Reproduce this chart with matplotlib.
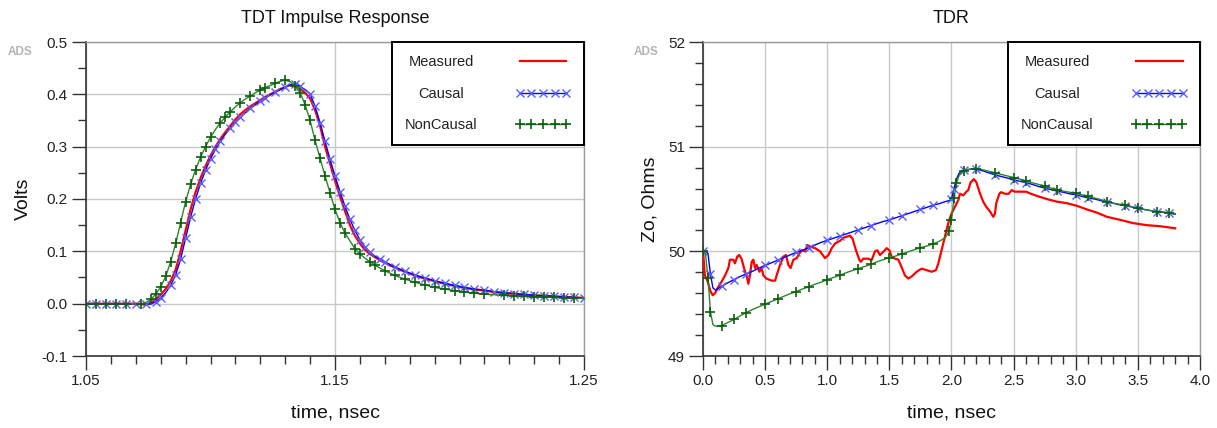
import numpy as np
import matplotlib
matplotlib.use("Agg")
import matplotlib.pyplot as plt
from matplotlib.lines import Line2D
from matplotlib.ticker import MultipleLocator, FormatStrFormatter

plt.rcParams['font.family'] = ['Liberation Sans', 'DejaVu Sans']

# ---- TDT impulse response data (time in nsec, volts) ----
t_tdt = [1.050, 1.054, 1.058, 1.062, 1.066, 1.070,
         1.072, 1.074, 1.076, 1.078, 1.080, 1.082, 1.084, 1.086, 1.088, 1.090,
         1.092, 1.094, 1.096, 1.098, 1.100, 1.102, 1.104, 1.106, 1.108, 1.110,
         1.112, 1.114, 1.116, 1.118, 1.120, 1.122, 1.124, 1.126, 1.128, 1.130,
         1.132, 1.134, 1.136, 1.138, 1.140, 1.142, 1.144, 1.146, 1.148, 1.150,
         1.152, 1.154, 1.156, 1.158, 1.160, 1.162, 1.164, 1.166, 1.168, 1.170,
         1.174, 1.178, 1.182, 1.186, 1.190, 1.194, 1.198, 1.202, 1.206, 1.210,
         1.214, 1.218, 1.222, 1.226, 1.230, 1.234, 1.238, 1.242, 1.246, 1.250]

tdt_measured = [0.000, 0.000, 0.000, 0.000, 0.000, 0.000,
                -0.001, -0.002, 0.002, 0.008, 0.017, 0.028, 0.043, 0.065, 0.100, 0.140,
                0.180, 0.213, 0.240, 0.263, 0.283, 0.300, 0.315, 0.328, 0.340, 0.352,
                0.362, 0.370, 0.377, 0.383, 0.389, 0.395, 0.400, 0.405, 0.410, 0.414,
                0.418, 0.415, 0.410, 0.403, 0.392, 0.370, 0.340, 0.300, 0.268, 0.235,
                0.205, 0.177, 0.150, 0.130, 0.115, 0.103, 0.095, 0.089, 0.083, 0.078,
                0.069, 0.061, 0.054, 0.048, 0.043, 0.038, 0.034, 0.030, 0.027, 0.025,
                0.022, 0.020, 0.019, 0.017, 0.016, 0.015, 0.014, 0.013, 0.012, 0.011]

tdt_causal = [0.000, 0.000, 0.000, 0.000, 0.000, 0.000,
              0.000, 0.000, -0.001, 0.004, 0.011, 0.021, 0.035, 0.055, 0.085, 0.125,
              0.165, 0.200, 0.230, 0.255, 0.277, 0.295, 0.311, 0.324, 0.336, 0.347,
              0.356, 0.365, 0.373, 0.380, 0.387, 0.393, 0.399, 0.404, 0.409, 0.414,
              0.418, 0.420, 0.415, 0.409, 0.401, 0.377, 0.346, 0.310, 0.276, 0.244,
              0.214, 0.186, 0.161, 0.140, 0.122, 0.108, 0.099, 0.091, 0.085, 0.080,
              0.070, 0.062, 0.055, 0.049, 0.044, 0.039, 0.035, 0.031, 0.028, 0.026,
              0.023, 0.021, 0.019, 0.018, 0.016, 0.015, 0.014, 0.013, 0.012, 0.011]

tdt_noncausal = [0.000, 0.000, 0.000, 0.000, 0.000, 0.000,
                 0.000, 0.002, 0.008, 0.018, 0.032, 0.052, 0.080, 0.115, 0.155, 0.195,
                 0.228, 0.256, 0.280, 0.300, 0.318, 0.333, 0.346, 0.357, 0.367, 0.376,
                 0.384, 0.391, 0.397, 0.403, 0.408, 0.413, 0.417, 0.421, 0.425, 0.427,
                 0.424, 0.416, 0.403, 0.380, 0.350, 0.312, 0.278, 0.244, 0.212, 0.180,
                 0.155, 0.135, 0.120, 0.105, 0.095, 0.087, 0.080, 0.074, 0.068, 0.063,
                 0.054, 0.047, 0.041, 0.036, 0.031, 0.028, 0.025, 0.022, 0.020, 0.018,
                 0.017, 0.016, 0.015, 0.014, 0.013, 0.013, 0.012, 0.011, 0.011, 0.010]

# ---- TDR data (time in nsec, Zo in ohms) ----
t_tdr = [0.00, 0.02, 0.04, 0.06, 0.08, 0.10,
         0.15, 0.20, 0.25, 0.30, 0.35, 0.40, 0.45, 0.50, 0.55, 0.60,
         0.65, 0.70, 0.75, 0.80, 0.85, 0.90, 0.95, 1.00, 1.05, 1.10,
         1.15, 1.20, 1.25, 1.30, 1.35, 1.40, 1.45, 1.50, 1.55, 1.60,
         1.65, 1.70, 1.75, 1.80, 1.85, 1.90, 1.95,
         1.98, 2.00, 2.02, 2.04, 2.06, 2.08, 2.10,
         2.15, 2.20, 2.25, 2.30, 2.35, 2.40, 2.45, 2.50, 2.55, 2.60,
         2.65, 2.70, 2.75, 2.80, 2.85, 2.90, 2.95, 3.00, 3.05, 3.10,
         3.15, 3.20, 3.25, 3.30, 3.35, 3.40, 3.45, 3.50, 3.55, 3.60,
         3.65, 3.70, 3.75, 3.80]

tdr_causal = [50.00, 50.00, 49.98, 49.78, 49.65, 49.63,
              49.665, 49.70, 49.73, 49.76, 49.785, 49.81, 49.84, 49.865, 49.89, 49.915,
              49.94, 49.965, 49.99, 50.01, 50.035, 50.06, 50.085, 50.105, 50.125, 50.145,
              50.165, 50.185, 50.205, 50.225, 50.245, 50.265, 50.285, 50.30, 50.32, 50.34,
              50.36, 50.38, 50.40, 50.42, 50.44, 50.455, 50.475,
              50.485, 50.50, 50.60, 50.69, 50.745, 50.765, 50.775,
              50.785, 50.785, 50.77, 50.75, 50.73, 50.715, 50.70, 50.68, 50.67, 50.655,
              50.64, 50.62, 50.605, 50.59, 50.575, 50.565, 50.55, 50.54, 50.525, 50.51,
              50.50, 50.485, 50.47, 50.46, 50.445, 50.435, 50.425, 50.41, 50.40, 50.39,
              50.38, 50.375, 50.365, 50.355]

tdr_noncausal = [50.00, 49.97, 49.75, 49.42, 49.30, 49.285,
                 49.29, 49.32, 49.35, 49.385, 49.415, 49.445, 49.47, 49.495, 49.52, 49.545,
                 49.57, 49.595, 49.615, 49.64, 49.66, 49.685, 49.705, 49.73, 49.75, 49.77,
                 49.795, 49.815, 49.835, 49.855, 49.875, 49.90, 49.92, 49.94, 49.955, 49.975,
                 49.995, 50.015, 50.035, 50.05, 50.07, 50.095, 50.13,
                 50.19, 50.30, 50.51, 50.65, 50.72, 50.755, 50.77,
                 50.785, 50.79, 50.78, 50.765, 50.75, 50.735, 50.72, 50.705, 50.69, 50.675,
                 50.655, 50.64, 50.62, 50.605, 50.59, 50.575, 50.565, 50.555, 50.54, 50.525,
                 50.51, 50.495, 50.475, 50.46, 50.45, 50.44, 50.425, 50.415, 50.40, 50.39,
                 50.38, 50.375, 50.37, 50.36]

# measured TDR is irregularly sampled: (time, Zo)
tdr_measured = [(0.000, 50.00), (0.015, 49.77), (0.035, 49.72), (0.060, 49.62), (0.078, 49.58),
                (0.097, 49.60), (0.123, 49.66), (0.150, 49.71), (0.177, 49.77), (0.204, 49.84),
                (0.217, 49.92), (0.244, 49.92), (0.257, 49.885), (0.276, 49.95), (0.292, 49.965),
                (0.310, 49.93), (0.330, 49.84), (0.352, 49.76), (0.365, 49.69), (0.378, 49.77),
                (0.392, 49.90), (0.405, 49.92), (0.419, 49.84), (0.432, 49.87), (0.454, 49.805),
                (0.472, 49.84), (0.486, 49.77), (0.510, 49.74), (0.553, 49.72), (0.580, 49.72),
                (0.598, 49.79), (0.620, 49.87), (0.647, 49.95), (0.668, 49.965), (0.687, 49.87),
                (0.705, 49.84), (0.727, 49.92), (0.754, 49.935), (0.776, 49.98), (0.795, 50.01),
                (0.822, 50.00), (0.840, 50.06), (0.862, 50.045), (0.902, 50.03), (0.942, 50.00),
                (0.982, 49.935), (1.010, 49.965), (1.036, 50.03), (1.063, 50.075), (1.103, 50.10),
                (1.130, 50.13), (1.170, 50.145), (1.183, 50.15), (1.204, 50.12), (1.231, 50.01),
                (1.258, 49.92), (1.270, 49.90), (1.290, 49.93), (1.330, 49.93), (1.357, 49.915),
                (1.384, 50.00), (1.403, 50.01), (1.424, 49.965), (1.451, 49.995), (1.478, 50.03),
                (1.500, 50.01), (1.518, 49.95), (1.545, 49.93), (1.572, 49.92), (1.598, 49.85),
                (1.625, 49.77), (1.652, 49.74), (1.680, 49.76), (1.720, 49.805), (1.760, 49.835),
                (1.800, 49.82), (1.840, 49.805), (1.875, 49.82), (1.894, 49.885), (1.920, 50.01),
                (1.947, 50.14), (1.974, 50.27), (2.000, 50.36), (2.030, 50.43), (2.055, 50.49),
                (2.068, 50.55), (2.095, 50.535), (2.120, 50.57), (2.135, 50.585), (2.154, 50.66),
                (2.180, 50.69), (2.200, 50.66), (2.230, 50.55), (2.257, 50.47), (2.280, 50.425),
                (2.310, 50.38), (2.336, 50.33), (2.350, 50.36), (2.360, 50.46), (2.385, 50.55),
                (2.400, 50.565), (2.430, 50.55), (2.460, 50.55), (2.485, 50.585), (2.510, 50.57),
                (2.550, 50.57), (2.600, 50.57), (2.640, 50.55), (2.686, 50.53), (2.766, 50.50),
                (2.847, 50.475), (2.927, 50.46), (3.010, 50.435), (3.090, 50.40), (3.170, 50.37),
                (3.250, 50.33), (3.360, 50.30), (3.460, 50.27), (3.570, 50.25), (3.680, 50.24),
                (3.800, 50.22)]

labels = ["Measured", "Causal", "NonCausal"]

RED = "#ff0000"
BLUE = "#0000ff"
BLUE_MK = "#5c5cff"
GREEN = "#2a862a"
GREEN_MK = "#0b5e0b"
GRID = "#c8c8c8"
DARK = "#333333"

fig = plt.figure(figsize=(12.17, 4.28), dpi=100)
ax1 = fig.add_axes([86 / 1217, 72 / 428, 498 / 1217, 314 / 428])
ax2 = fig.add_axes([703 / 1217, 72 / 428, 497 / 1217, 314 / 428])


def style_axes(ax):
    ax.grid(True, which="major", color=GRID, linewidth=1.0)
    ax.set_axisbelow(True)
    for side in ("left", "bottom"):
        ax.spines[side].set_color(DARK)
        ax.spines[side].set_linewidth(1.2)
    for side in ("top", "right"):
        ax.spines[side].set_color("#9a9a9a")
        ax.spines[side].set_linewidth(1.0)
    ax.tick_params(which="major", direction="out", length=10, width=1.0,
                   color=DARK, labelsize=11, labelcolor="#222222", pad=3)
    ax.tick_params(which="minor", direction="out", length=6, width=1.0, color=DARK)
    ax.tick_params(top=False, right=False, which="both")


def add_legend(ax):
    handles = [
        Line2D([], [], color=RED, linewidth=1.6),
        Line2D([], [], color=BLUE, linewidth=1.0, marker="x", markersize=6,
               markeredgecolor=BLUE_MK, markeredgewidth=1.0),
        Line2D([], [], color=GREEN, linewidth=1.0, marker="+", markersize=7,
               markeredgecolor=GREEN_MK, markeredgewidth=1.2),
    ]
    leg = ax.legend(handles, labels, loc="upper right", bbox_to_anchor=(1.0, 1.0),
                    borderaxespad=0.0, markerfirst=False, numpoints=5,
                    handlelength=3.8, handletextpad=2.6, labelspacing=1.2,
                    borderpad=0.9, fontsize=10.5, fancybox=False, framealpha=1.0,
                    edgecolor="black")
    leg.get_frame().set_linewidth(1.4)
    for txt in leg.get_texts():
        txt.set_color("#222222")
    return leg


# ---- left: TDT impulse response ----
ax1.plot(t_tdt, tdt_measured, color=RED, linewidth=1.6, zorder=3)
ax1.plot(t_tdt, tdt_causal, color=BLUE, linewidth=1.0, marker="x", markersize=6,
         markeredgecolor=BLUE_MK, markeredgewidth=1.0, markevery=0.017, zorder=4)
ax1.plot(t_tdt, tdt_noncausal, color=GREEN, linewidth=1.0, marker="+", markersize=7,
         markeredgecolor=GREEN_MK, markeredgewidth=1.2, markevery=0.018, zorder=5)
ax1.set_xlim(1.05, 1.25)
ax1.set_ylim(-0.1, 0.5)
ax1.set_xticks([1.05, 1.15, 1.25])
ax1.xaxis.set_major_formatter(FormatStrFormatter("%.2f"))
ax1.xaxis.set_minor_locator(MultipleLocator(0.01))
ax1.yaxis.set_major_locator(MultipleLocator(0.1))
ax1.yaxis.set_major_formatter(FormatStrFormatter("%.1f"))
ax1.yaxis.set_minor_locator(MultipleLocator(0.05))
style_axes(ax1)
ax1.set_title("TDT Impulse Response", fontsize=13, pad=13.5, color="#111111")
ax1.set_xlabel("time, nsec", fontsize=14, labelpad=12, color="#111111")
ax1.set_ylabel("Volts", fontsize=14, labelpad=7, color="#111111")
leg1 = add_legend(ax1)

# ---- right: TDR ----
t_meas, z_meas = zip(*tdr_measured)
ax2.plot(t_meas, z_meas, color=RED, linewidth=1.6, zorder=3)
ax2.plot(t_tdr, tdr_causal, color=BLUE, linewidth=1.0, marker="x", markersize=6,
         markeredgecolor=BLUE_MK, markeredgewidth=1.0, markevery=0.028, zorder=4)
ax2.plot(t_tdr, tdr_noncausal, color=GREEN, linewidth=1.0, marker="+", markersize=7,
         markeredgecolor=GREEN_MK, markeredgewidth=1.2, markevery=0.028, zorder=5)
ax2.set_xlim(0.0, 4.0)
ax2.set_ylim(49, 52)
ax2.xaxis.set_major_locator(MultipleLocator(0.5))
ax2.xaxis.set_major_formatter(FormatStrFormatter("%.1f"))
ax2.xaxis.set_minor_locator(MultipleLocator(0.1))
ax2.yaxis.set_major_locator(MultipleLocator(1))
ax2.yaxis.set_major_formatter(FormatStrFormatter("%d"))
ax2.yaxis.set_minor_locator(MultipleLocator(0.2))
style_axes(ax2)
ax2.set_title("TDR", fontsize=13, pad=13.5, color="#111111")
ax2.set_xlabel("time, nsec", fontsize=14, labelpad=12, color="#111111")
ax2.set_ylabel("Zo, Ohms", fontsize=14, labelpad=7, color="#111111")
leg2 = add_legend(ax2)

# ADS watermark labels
fig.text(8 / 1217, 1 - 52 / 428, "ADS", fontsize=8.5, fontweight="bold",
         color="#b4b4b4", va="center", ha="left")
fig.text(634 / 1217, 1 - 52 / 428, "ADS", fontsize=8.5, fontweight="bold",
         color="#b4b4b4", va="center", ha="left")

# center the legend labels in their column (rows are right-aligned by default)
fig.canvas.draw()
renderer = fig.canvas.get_renderer()
for leg in (leg1, leg2):
    texts = leg.get_texts()
    widths = [t.get_window_extent(renderer).width for t in texts]
    wmax = max(widths)
    for t, w in zip(texts, widths):
        t.set_x(-(wmax - w) / 2.0)

fig.savefig("out.png", dpi=100)
